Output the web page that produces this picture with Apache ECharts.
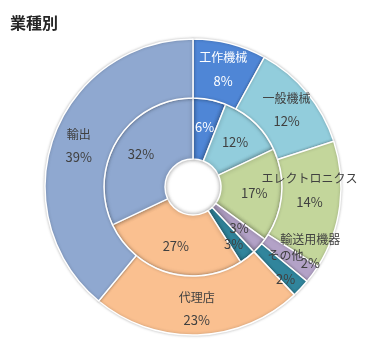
<!DOCTYPE html>
<html>
<head>
<meta charset="utf-8">
<script src="https://cdn.jsdelivr.net/npm/echarts@6/dist/echarts.min.js"></script>
<style>
html,body{margin:0;padding:0;background:#fff;}
#c{width:370px;height:354px;}
</style>
</head>
<body>
<div id="c"></div>
<script>
const titleText = '業種別';
const categories = ['工作機械','一般機械','エレクトロニクス','輸送用機器','その他','代理店','輸出'];
const outerValues = [8,12,14,2,2,23,39];
const innerValues = [6,12,17,3,3,27,32];
const colors = ['#4F86D6','#92CDDC','#C3D69B','#B3A2C7','#31859C','#FAC090','#8FA8D0'];

const outerLabelTweaks = {
  'エレクトロニクス': {offset:[-4,-12]},
  '輸送用機器': {offset:[19,-7]},
  'その他': {offset:[4,-3]}
};
const innerLabelTweaks = {
  'その他': {offset:[3,8]}
};
const darkText = '#404040';
const font = '"Noto Sans CJK JP", "Noto Sans", sans-serif';

const chart = echarts.init(document.getElementById('c'), null, {renderer:'canvas'});

const innerData = categories.map((n,i)=>{
  const d = {
    name:n, value:innerValues[i],
    itemStyle:{color:colors[i]},
    label:{color: i===0 ? '#ffffff' : darkText}
  };
  if (innerLabelTweaks[n]) Object.assign(d.label, innerLabelTweaks[n]);
  return d;
});
const outerData = categories.map((n,i)=>{
  const d = {
    name:n, value:outerValues[i],
    itemStyle:{color:colors[i]},
    label:{rich:{
      n:{fontSize:12, lineHeight:23, color: i===0?'#ffffff':darkText, fontFamily:font},
      p:{fontSize:13, lineHeight:23, color: i===0?'#ffffff':darkText, fontFamily:font}
    }}
  };
  if (outerLabelTweaks[n]) Object.assign(d.label, outerLabelTweaks[n]);
  return d;
});

chart.setOption({
  animation:false,
  title:{text:titleText, left:5, top:10, textStyle:{fontSize:16, fontWeight:'bold', color:'#262626', fontFamily:font}},
  series:[
    {
      type:'pie', center:[193,187], radius:[28,89], startAngle:90, clockwise:true,
      sort:null, avoidLabelOverlap:false, minShowLabelAngle:0,
      itemStyle:{borderColor:'#fff', borderWidth:1.5, shadowBlur:4, shadowColor:'rgba(0,0,0,0.35)'},
      label:{show:true, position:'inside', formatter:'{c}%', fontSize:13, fontFamily:font, overflow:'none'},
      labelLayout:{hideOverlap:false},
      labelLine:{show:false},
      emphasis:{disabled:true},
      data:innerData
    },
    {
      type:'pie', center:[193,187], radius:[89,148], startAngle:90, clockwise:true,
      sort:null, avoidLabelOverlap:false, minShowLabelAngle:0,
      itemStyle:{borderColor:'#fff', borderWidth:1.5, shadowBlur:3, shadowColor:'rgba(0,0,0,0.25)'},
      label:{show:true, position:'inside', formatter:'{n|{b}}\n{p|{c}%}', overflow:'none'},
      labelLayout:{hideOverlap:false},
      labelLine:{show:false},
      emphasis:{disabled:true},
      data:outerData
    }
  ]
});
</script>
</body>
</html>
